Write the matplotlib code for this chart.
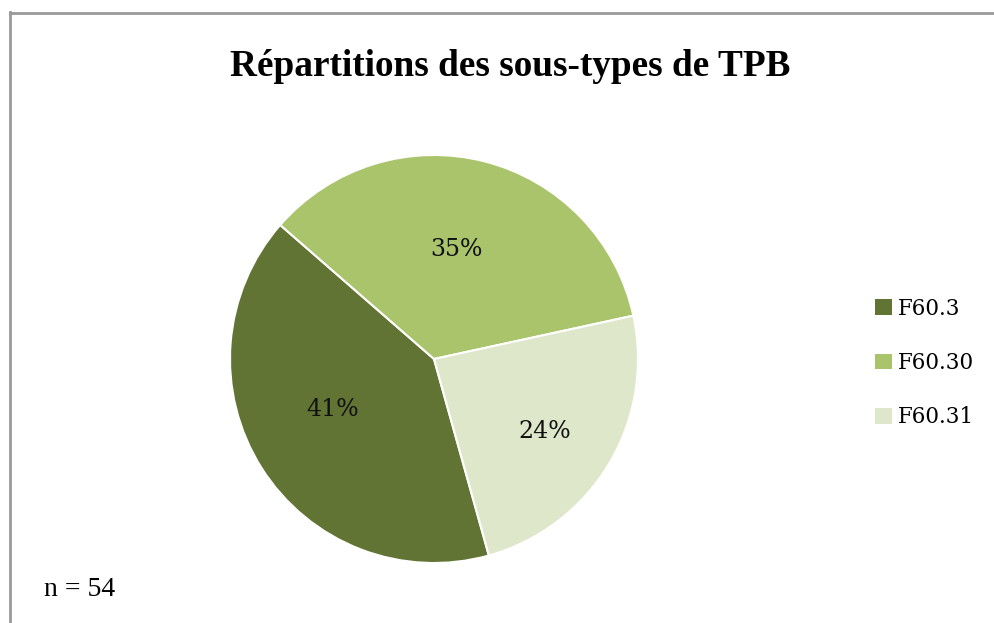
import matplotlib
matplotlib.use("Agg")
import matplotlib.pyplot as plt
import numpy as np
from matplotlib.lines import Line2D

# Data
categories = ["F60.3", "F60.30", "F60.31"]
counts = [22, 19, 13]
pct_labels = ["41%", "35%", "24%"]
colors = ["#617434", "#AAC46C", "#DFE7CA"]
title = "Répartitions des sous-types de TPB"
note = "n = 54"

W, H = 995, 623
fig = plt.figure(figsize=(W / 100, H / 100), dpi=100)
fig.patch.set_facecolor("white")

# Border (left and top)
fig.add_artist(Line2D([9.5 / W, 9.5 / W], [0, 1 - 12 / H], transform=fig.transFigure,
                      color="#999999", lw=2))
fig.add_artist(Line2D([9.5 / W, 1], [1 - 12.5 / H, 1 - 12.5 / H], transform=fig.transFigure,
                      color="#999999", lw=2))

cx, cy, r = 434, 359, 204
ax = fig.add_axes([(cx - r) / W, (H - cy - r) / H, 2 * r / W, 2 * r / H])
wedges, _ = ax.pie(counts, colors=colors, startangle=-74.4, counterclock=False,
                   radius=1, wedgeprops=dict(edgecolor="white", linewidth=1.5))
ax.set_xlim(-1, 1)
ax.set_ylim(-1, 1)
ax.set_aspect("equal")

dists = [0.555, 0.55, 0.65]
angle_shift = [-6, 3, -2]
for w, lab, d, sh in zip(wedges, pct_labels, dists, angle_shift):
    mid = np.deg2rad((w.theta1 + w.theta2) / 2 + sh)
    ax.text(d * np.cos(mid), d * np.sin(mid), lab, ha="center", va="center",
            fontsize=17, family="DejaVu Serif", color="#111111")

fig.text(510 / W, 1 - 66 / H, title, ha="center", va="center",
         fontsize=26.8, fontweight="bold", family="Liberation Serif")
fig.text(44 / W, 1 - 590 / H, note, ha="left", va="center",
         fontsize=20, family="Liberation Serif")

leg = fig.legend(wedges, categories, loc="center left",
                 bbox_to_anchor=(856 / W, 1 - 363 / H), frameon=False,
                 prop=dict(family="DejaVu Serif", size=15.5),
                 handlelength=0.75, handleheight=0.75, handletextpad=0.3,
                 labelspacing=1.5)
for h in leg.legend_handles:
    h.set_edgecolor("none")

fig.savefig("out.png", dpi=100)
